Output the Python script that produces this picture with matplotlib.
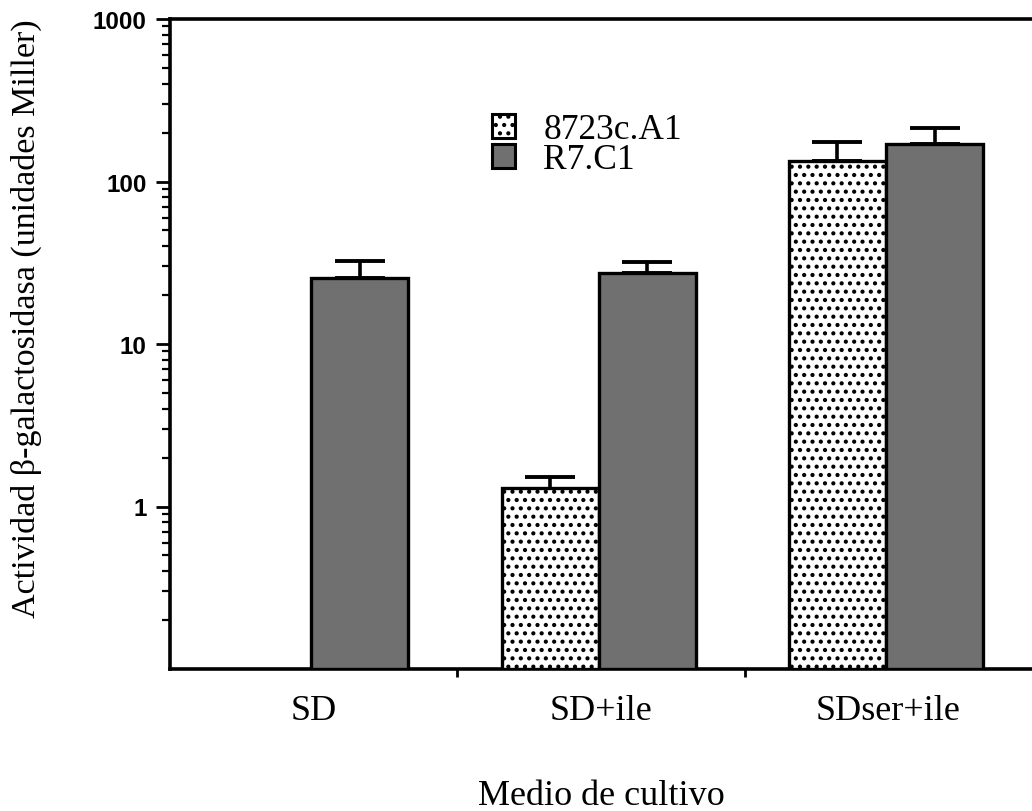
import numpy as np
import matplotlib
matplotlib.use("Agg")
import matplotlib.pyplot as plt
from matplotlib.patches import Patch
from matplotlib.ticker import LogLocator, NullFormatter, FixedLocator, FixedFormatter

# Culture media (x categories)
media = ["SD", "SD+ile", "SDser+ile"]
strains = ["8723c.A1", "R7.C1"]

# Mean beta-galactosidase activity (Miller units) and upper error bar end
act_8723 = [np.nan, 1.20, 134.0]
err_8723 = [np.nan, 1.51, 176.0]
act_r7 = [25.4, 27.3, 169.0]
err_r7 = [32.3, 31.8, 214.0]

y_ticks = [1, 10, 100, 1000]
y_ticklabels = ["1", "10", "100", "1000"]

serif = ["Liberation Serif", "DejaVu Serif"]
plt.rcParams["hatch.linewidth"] = 1.8

fig = plt.figure(figsize=(10.32, 8.12), dpi=100)
ax = fig.add_axes([170 / 1032, 142 / 812, 862 / 1032, 650 / 812])

x = np.arange(len(media))
w = 0.338
shift = -0.008
dark = "#707070"

for xi, v, e in zip(x, act_8723, err_8723):
    if np.isnan(v):
        continue
    xc = xi + shift - w / 2
    ax.bar(xc, v, width=w, bottom=0.1, color="white", edgecolor="black",
           linewidth=2.4, hatch="..", zorder=3)
    ax.errorbar(xc, v, yerr=[[0], [e - v]], fmt="none", ecolor="black",
                elinewidth=2.6, capsize=18, capthick=2.8, zorder=2)

for xi, v, e in zip(x, act_r7, err_r7):
    xc = xi + shift + w / 2
    ax.bar(xc, v, width=w, bottom=0.1, color=dark, edgecolor="black",
           linewidth=2.4, zorder=3)
    ax.errorbar(xc, v, yerr=[[0], [e - v]], fmt="none", ecolor="black",
                elinewidth=2.6, capsize=18, capthick=2.8, zorder=2)

ax.set_yscale("log")
ax.set_ylim(0.1, 1000)
ax.set_xlim(-0.5, 2.5)

ax.yaxis.set_major_locator(FixedLocator(y_ticks))
ax.yaxis.set_major_formatter(FixedFormatter(y_ticklabels))
ax.yaxis.set_minor_locator(LogLocator(base=10, subs=np.arange(2, 10)))
ax.yaxis.set_minor_formatter(NullFormatter())
ax.tick_params(axis="y", which="major", direction="out", length=10, width=2.0,
               pad=7)
ax.tick_params(axis="y", which="minor", direction="out", length=6, width=1.6)
for lab in ax.get_yticklabels():
    lab.set_fontfamily("Liberation Sans")
    lab.set_fontweight("bold")
    lab.set_fontsize(17.5)

# category boundaries carry the x ticks; names sit at the centres
ax.xaxis.set_major_locator(FixedLocator([0.5, 1.5]))
ax.xaxis.set_major_formatter(NullFormatter())
ax.tick_params(axis="x", which="major", direction="out", length=6, width=2.0)
ax.xaxis.set_minor_locator(FixedLocator(x))
ax.xaxis.set_minor_formatter(FixedFormatter(media))
ax.tick_params(axis="x", which="minor", length=0, pad=18, labelsize=26)
for lab in ax.get_xticklabels(minor=True):
    lab.set_fontfamily(serif)

for s in ["left", "bottom", "top"]:
    ax.spines[s].set_linewidth(2.6)
ax.spines["right"].set_visible(False)

ax.set_ylabel("Actividad β-galactosidasa (unidades Miller)", fontsize=24.5,
              family=serif)
ax.yaxis.set_label_coords(-0.148, 0.54)
ax.set_xlabel("Medio de cultivo", fontsize=26, family=serif)
ax.xaxis.set_label_coords(0.5, -0.17)

handles = [
    Patch(facecolor="white", edgecolor="black", hatch="..", linewidth=2.2,
          label=strains[0]),
    Patch(facecolor=dark, edgecolor="black", linewidth=2.2, label=strains[1]),
]
ax.legend(handles=handles, loc="upper left", bbox_to_anchor=(0.3735, 0.855),
          frameon=False, prop={"family": serif, "size": 25.5},
          handlelength=0.65, handleheight=0.65, handletextpad=0.8,
          labelspacing=-0.08, borderaxespad=0, borderpad=0)

fig.savefig("out.png", dpi=100, facecolor="white")
